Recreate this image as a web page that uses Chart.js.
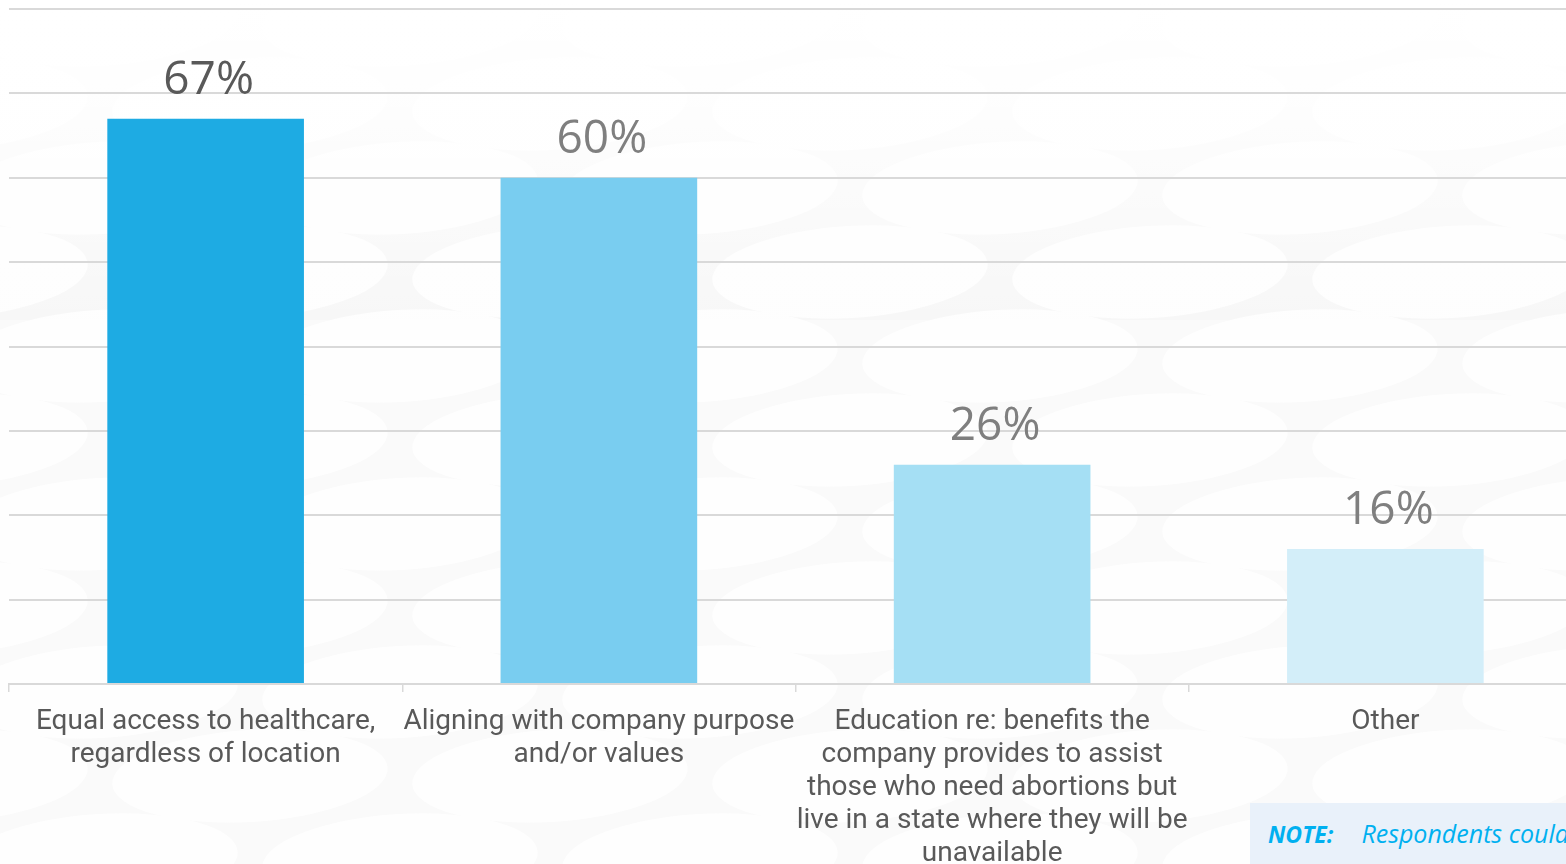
<!DOCTYPE html>
<html>
<head>
<meta charset="utf-8">
<script src="https://cdn.jsdelivr.net/npm/chart.js@4.4.0/dist/chart.umd.min.js"></script>
<style>
  body { margin: 0; overflow: hidden; background: #fff; width: 1566px; height: 864px; position: relative; }
  #wrap { position: absolute; left: 0; top: 0; width: 1600px; height: 864px; }
  #note {
    position: absolute; left: 1250px; top: 803px; width: 420px; height: 61px;
    background: #e9f1fa; color: #00b0f0; font-family: 'Open Sans', sans-serif;
    font-style: italic; font-size: 25px; line-height: 61px; padding-left: 18px;
    white-space: nowrap; box-sizing: border-box;
  }
  #note b { font-weight: 700; font-size: 23px; margin-right: 28px; }
</style>
</head>
<body>
<div id="wrap"><canvas id="chart"></canvas></div>
<div id="note"><b>NOTE:</b>Respondents could select multiple answers</div>
<script>
// Data
const categories = [
  ['Equal access to healthcare,', 'regardless of location'],
  ['Aligning with company purpose', 'and/or values'],
  ['Education re: benefits the', 'company provides to assist', 'those who need abortions but', 'live in a state where they will be', 'unavailable'],
  ['Other']
];
const values = [67, 60, 26, 16];
const barColors = ['#1eabe3', '#79cdf0', '#a5dff4', '#d3eef9'];
const labelColors = ['#595959', '#7f7f7f', '#7f7f7f', '#7f7f7f'];
const yTicks = { min: 0, max: 80, step: 10 };

// Background: soft grey pattern of ellipses, fading out near the top
const bgPattern = {
  id: 'bgPattern',
  beforeDraw(chart) {
    const {ctx, width, height} = chart;
    ctx.save();
    ctx.fillStyle = '#f3f3f3';
    ctx.fillRect(0, 0, width, height);
    ctx.fillStyle = '#fdfdfd';
    let row = 0;
    for (let y = 20; y < height + 100; y += 84, row++) {
      const off = row % 2 ? 150 : 0;
      for (let x = -200 + off; x < width + 300; x += 300) {
        ctx.beginPath();
        ctx.ellipse(x, y, 138, 46, -0.06, 0, Math.PI * 2);
        ctx.fill();
      }
    }
    const g = ctx.createLinearGradient(0, 0, 0, 320);
    g.addColorStop(0, 'rgba(255,255,255,1)');
    g.addColorStop(0.3, 'rgba(255,255,255,0.9)');
    g.addColorStop(1, 'rgba(255,255,255,0.35)');
    ctx.fillStyle = g;
    ctx.fillRect(0, 0, width, height);
    ctx.fillStyle = 'rgba(255,255,255,0.35)';
    ctx.fillRect(0, 320, width, height);
    ctx.restore();
  }
};

// Value labels above bars
const valueLabels = {
  id: 'valueLabels',
  afterDatasetsDraw(chart) {
    const {ctx} = chart;
    const meta = chart.getDatasetMeta(0);
    ctx.save();
    ctx.font = '46px "Open Sans", sans-serif';
    ctx.textAlign = 'center';
    ctx.textBaseline = 'alphabetic';
    meta.data.forEach((bar, i) => {
      ctx.fillStyle = labelColors[i];
      ctx.fillText(values[i] + '%', bar.x + 3, bar.y - 25);
    });
    ctx.restore();
  }
};

new Chart(document.getElementById('chart'), {
  type: 'bar',
  data: {
    labels: categories,
    datasets: [{
      data: values,
      backgroundColor: barColors,
      borderWidth: 0,
      categoryPercentage: 1,
      barPercentage: 0.5
    }]
  },
  options: {
    responsive: true,
    maintainAspectRatio: false,
    animation: false,
    layout: { padding: { left: 9, right: 18, top: 9, bottom: 0 } },
    plugins: { legend: { display: false }, tooltip: { enabled: false } },
    scales: {
      x: {
        grid: { display: true, drawOnChartArea: false, color: '#d9d9d9', lineWidth: 1.5, tickLength: 8, offset: true },
        border: { color: '#d9d9d9', width: 2 },
        ticks: {
          color: '#595959',
          font: { family: '"Roboto", sans-serif', size: 28, lineHeight: 1.18 },
          padding: 13,
          maxRotation: 0,
          minRotation: 0,
          autoSkip: false
        },
        afterFit(scale) { scale.height = 180; }
      },
      y: {
        min: yTicks.min,
        max: yTicks.max,
        ticks: { display: false, stepSize: yTicks.step },
        grid: { color: '#d9d9d9', lineWidth: 2, drawTicks: false },
        border: { display: false }
      }
    }
  },
  plugins: [bgPattern, valueLabels]
});
</script>
</body>
</html>
